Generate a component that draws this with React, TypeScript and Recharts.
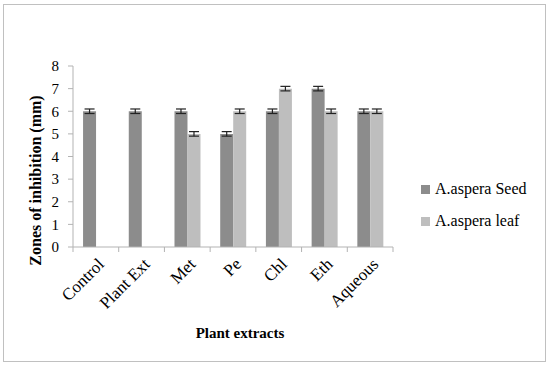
import React from 'react';
import { BarChart, Bar, XAxis, YAxis, ErrorBar, Text } from 'recharts';

const categories = ['Control', 'Plant Ext', 'Met', 'Pe', 'Chl', 'Eth', 'Aqueous'];
const seedValues = [6, 6, 6, 5, 6, 7, 6];
const leafValues: (number | null)[] = [null, null, 5, 6, 7, 6, 6];
const seedErrors = [0.1, 0.1, 0.1, 0.1, 0.1, 0.1, 0.1];
const leafErrors: (number | null)[] = [null, null, 0.1, 0.1, 0.1, 0.1, 0.1];
const yTicks = [0, 1, 2, 3, 4, 5, 6, 7, 8];
const seriesNames = ['A.aspera Seed', 'A.aspera leaf'];

const data = categories.map((c, i) => ({
  name: c,
  seed: seedValues[i],
  leaf: leafValues[i],
  seedErr: seedErrors[i],
  leafErr: leafErrors[i],
}));

const SEED = '#8c8c8c';
const LEAF = '#bebebe';
const FONT = '"Liberation Serif", "Times New Roman", serif';
const AXIS = '#b3b3b3';

const W = 550;
const H = 367;
const LEFT = 73;
const RIGHT = 157;
const PLOT_BOTTOM = 247;
const BAND = (W - LEFT - RIGHT) / categories.length;

const renderXTick = (props: any) => {
  const x = Number(props.x);
  const { payload, index } = props;
  const half = BAND / 2;
  const y = PLOT_BOTTOM;
  const tx = x + 5;
  const ty = y + 14;
  return (
    <g key={`xt-${index}`}>
      <line x1={x - half} y1={y} x2={x - half} y2={y + 5} stroke={AXIS} />
      {index === categories.length - 1 && <line x1={x + half} y1={y} x2={x + half} y2={y + 5} stroke={AXIS} />}
      <Text
        x={tx}
        y={ty}
        angle={-45}
        textAnchor="end"
        verticalAnchor="middle"
        fontSize={17}
        fill="#000"
        fontFamily={FONT}
      >
        {payload.value}
      </Text>
    </g>
  );
};

const renderYTick = (props: any) => {
  const y = Number(props.y);
  const x = LEFT - 14;
  return (
    <text
      key={`yt-${props.index}`}
      x={x}
      y={y}
      dy="0.35em"
      textAnchor="end"
      fontSize={15}
      fill="#000"
      fontFamily={FONT}
    >
      {props.payload.value}
    </text>
  );
};

const LegendContent = () => (
  <div style={{ fontFamily: FONT, fontSize: 16, color: '#000' }}>
    {seriesNames.map((n, i) => (
      <div key={n} style={{ display: 'flex', alignItems: 'center', height: 30, marginBottom: i === 0 ? 2 : 0 }}>
        <span
          style={{
            display: 'inline-block',
            width: 9,
            height: 9,
            background: i === 0 ? SEED : LEAF,
            marginRight: 5,
          }}
        />
        <span>{n}</span>
      </div>
    ))}
  </div>
);

export default function App() {
  return (
    <div
      style={{
        position: 'absolute',
        left: 0,
        top: 0,
        width: W,
        height: H,
        background: '#fff',
        fontFamily: FONT,
      }}
    >
      <div
        style={{
          position: 'absolute',
          left: 3,
          top: 4,
          width: 541,
          height: 356,
          border: '1.5px solid #c0c0c0',
        }}
      />
      <div style={{ position: 'absolute', left: 0, top: 0 }}>
        <BarChart
          width={W}
          height={H}
          data={data}
          margin={{ top: 66, right: RIGHT, bottom: 0, left: 0 }}
          barCategoryGap="22%"
          barGap={0}
        >
          <XAxis
            dataKey="name"
            height={120}
            axisLine={{ stroke: AXIS }}
            tickLine={false}
            interval={0}
            tick={renderXTick}
            label={(p: any) => {
              const vb = p.viewBox;
              return (
                <text
                  x={vb.x + vb.width / 2 + 7}
                  y={vb.y + 91}
                  textAnchor="middle"
                  fontWeight="bold"
                  fontSize={15}
                  fontFamily={FONT}
                  fill="#000"
                >
                  Plant extracts
                </text>
              );
            }}
          />
          <YAxis
            width={LEFT}
            domain={[0, 8]}
            ticks={yTicks}
            interval={0}
            axisLine={{ stroke: AXIS }}
            tickLine={{ stroke: AXIS }}
            tickSize={5}
            tickMargin={8}
            tick={renderYTick}
            label={(p: any) => {
              const vb = p.viewBox;
              const cx = 35;
              const cy = vb.y + vb.height / 2 + 24;
              return (
                <text
                  x={cx}
                  y={cy}
                  textAnchor="middle"
                  dominantBaseline="central"
                  transform={`rotate(-90, ${cx}, ${cy})`}
                  fontWeight="bold"
                  fontSize={16}
                  fontFamily={FONT}
                  fill="#000"
                >
                  Zones of inhibition (mm)
                </text>
              );
            }}
          />
          <Bar dataKey="seed" name={seriesNames[0]} fill={SEED} isAnimationActive={false}>
            <ErrorBar dataKey="seedErr" width={5} stroke="#222" strokeWidth={1.2} />
          </Bar>
          <Bar dataKey="leaf" name={seriesNames[1]} fill={LEAF} isAnimationActive={false}>
            <ErrorBar dataKey="leafErr" width={5} stroke="#222" strokeWidth={1.2} />
          </Bar>
        </BarChart>
      </div>
      <div style={{ position: 'absolute', left: 421, top: 174 }}>
        <LegendContent />
      </div>
    </div>
  );
}
